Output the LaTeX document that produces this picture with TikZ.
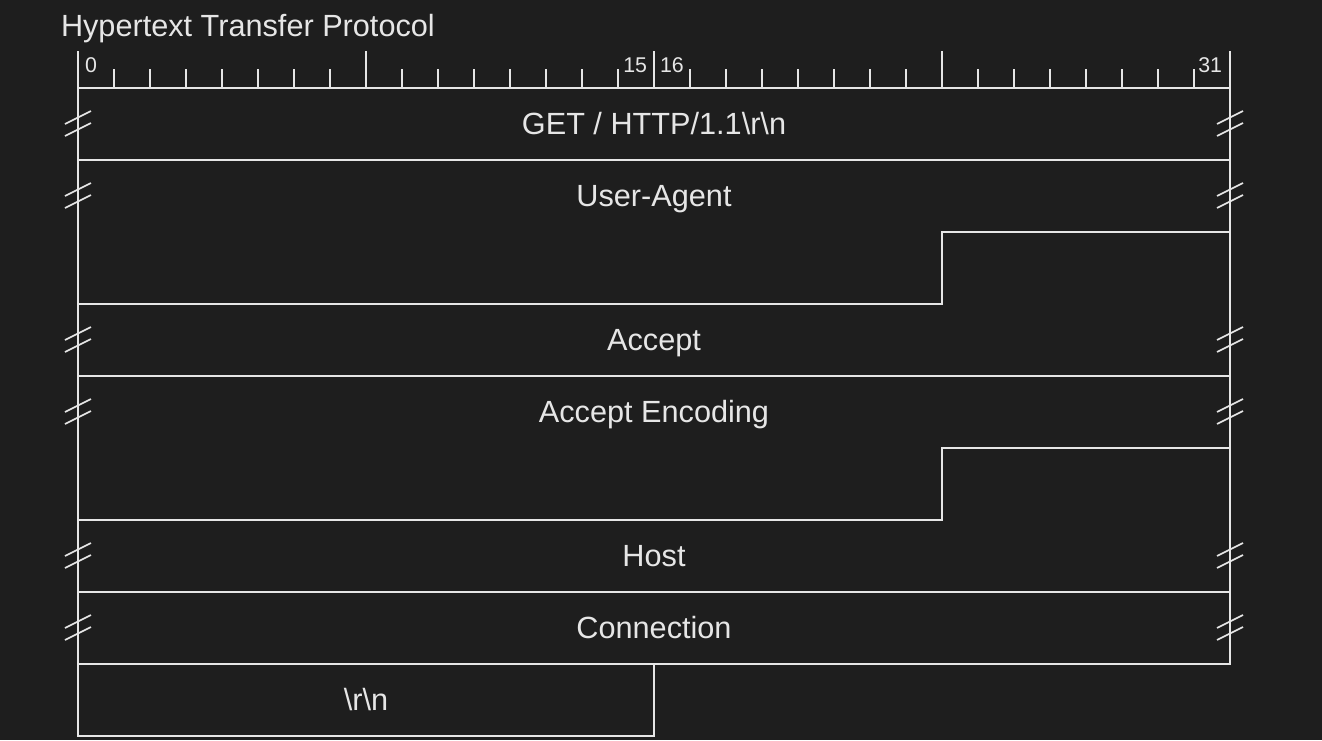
\documentclass[tikz,border=0pt]{standalone}
\usepackage{fontspec}
\setmainfont{Liberation Sans}
\definecolor{bg}{HTML}{1E1E1E}
\definecolor{fg}{HTML}{E6E6E6}
\tikzset{
  field/.style={anchor=base, inner sep=0pt, font=\fontsize{23}{27}\selectfont},
  bitnum/.style={anchor=base, inner sep=0pt, font=\fontsize{16}{19}\selectfont},
  brk/.style={line width=1.2pt},
}

\begin{document}
\begin{tikzpicture}[x=0.75pt, y=-0.75pt, line width=1.5pt, color=fg]
\fill[bg] (0, 0) rectangle (1322, 740);
\useasboundingbox (0, 0) rectangle (1322, 740);
\node[field, anchor=base west] (title) at (60, 36.7) {Hypertext Transfer Protocol};
% bit ruler
\path (78, 88) coordinate (b0) (1230, 88) coordinate (b32);
\draw (b0) -- (b32);
\foreach \i in {1,...,31} \draw (b0) ++(36*\i, 0) -- ++(0, -19);
\foreach \i in {0,8,...,32} \draw (b0) ++(36*\i, 0) -- ++(0, -37);
\node[bitnum, anchor=base west] (n0) at (84, 72.5) {0};
\node[bitnum, anchor=base east] (n15) at (648, 72.5) {15};
\node[bitnum, anchor=base west] (n16) at (659, 72.5) {16};
\node[bitnum, anchor=base east] (n31) at (1223, 72.5) {31};
% fields
\draw (b0) -- ++(0, 648) -- ++(576, 0) -- ++(0, -72);
\draw (b32) -- ++(0, 576) -- ++(-1152, 0);
\draw (78, 160) -- ++(1152, 0);
\draw (78, 304) -- ++(864, 0) -- ++(0, -72) -- ++(288, 0);
\draw (78, 376) -- ++(1152, 0);
\draw (78, 520) -- ++(864, 0) -- ++(0, -72) -- ++(288, 0);
\draw (78, 592) -- ++(1152, 0);
\node[field] (get) at (654, 134.8) {GET / HTTP/1.1\textbackslash r\textbackslash n};
\node[field] (agent) at (654, 206.8) {User-Agent};
\node[field] (accept) at (654, 350.8) {Accept};
\node[field] (encoding) at (654, 422.8) {Accept Encoding};
\node[field] (host) at (654, 566.8) {Host};
\node[field] (conn) at (654, 638.8) {Connection};
\node[field] (crlf) at (366, 710.8) {\textbackslash r\textbackslash n};
% break marks
\foreach \y in {124,196,340,412,556,628}
  \foreach \x in {78,1230} {
    \draw[brk] (\x-13, \y) -- ++(26, -13);
    \draw[brk] (\x-13, \y+12) -- ++(26, -13);
  }
\end{tikzpicture}
\end{document}
